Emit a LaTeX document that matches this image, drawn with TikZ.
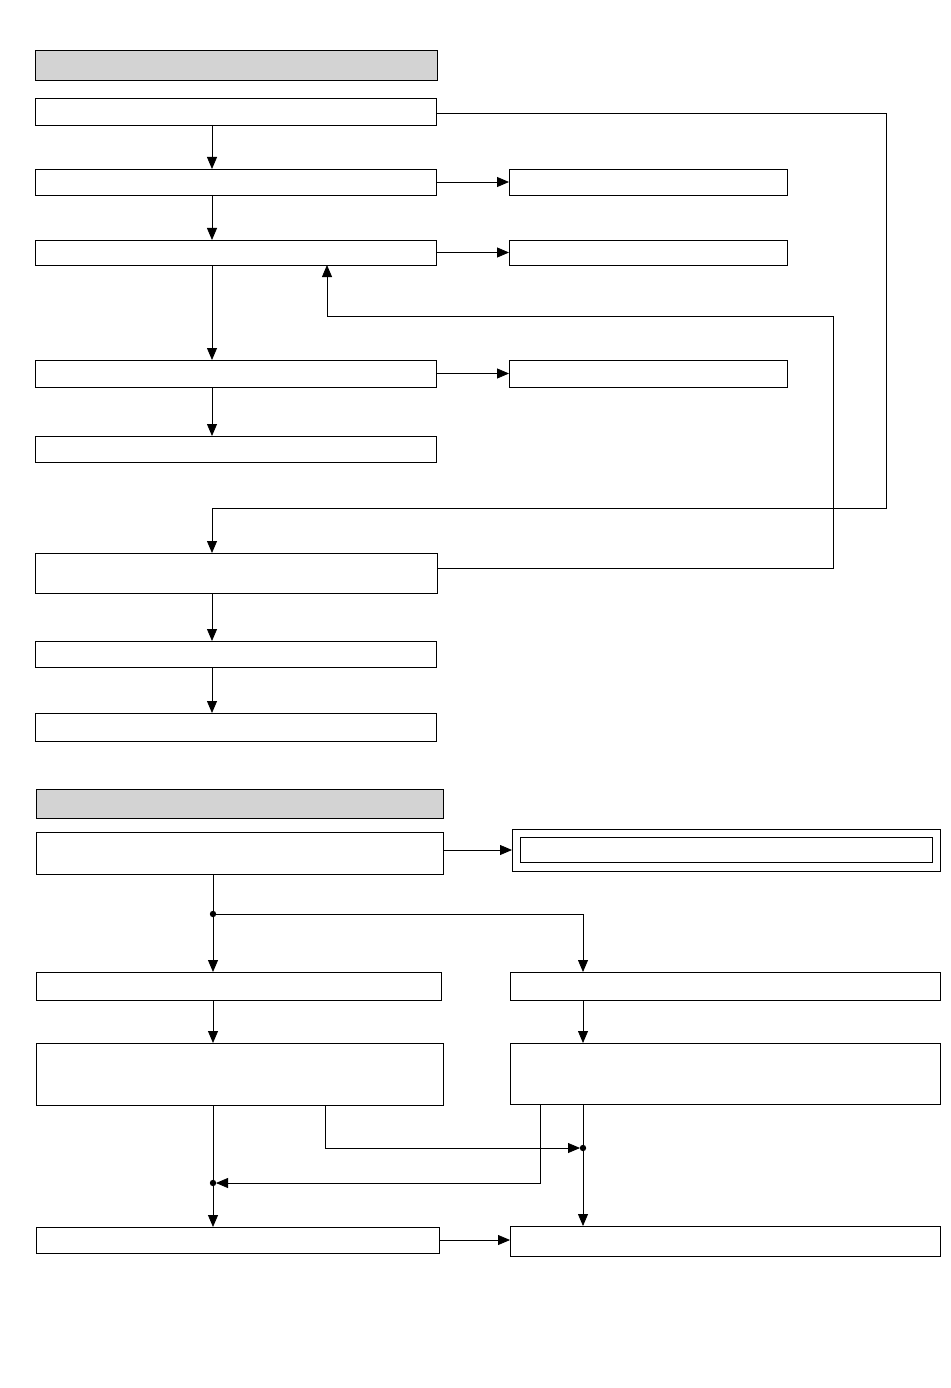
\documentclass[tikz,border=0pt]{standalone}
\usepackage{tikz}
\usetikzlibrary{arrows.meta}
\definecolor{headgray}{RGB}{211,211,211}

\begin{document}
\begin{tikzpicture}[x=1pt,y=-1pt,line width=0.8pt,
	box/.style={draw,rectangle,inner sep=0pt,outer sep=0pt},
	headbox/.style={box,fill=headgray},
	arr/.style={-{Triangle[length=12pt,width=10pt]}}]

	\useasboundingbox (0,0) rectangle (950,1388);

	% upper chart
	\node[headbox,minimum width=402pt,minimum height=30pt] (head1) at (236,65) {};
	\node[box,minimum width=401pt,minimum height=27pt] (b1) at (235.5,111.5) {};
	\node[box,minimum width=401pt,minimum height=26pt] (b2) at (235.5,182) {};
	\node[box,minimum width=401pt,minimum height=25pt] (b3) at (235.5,252.5) {};
	\node[box,minimum width=401pt,minimum height=27pt] (b4) at (235.5,373.5) {};
	\node[box,minimum width=401pt,minimum height=26pt] (b5) at (235.5,449) {};
	\node[box,minimum width=402pt,minimum height=40pt] (b6) at (236,573) {};
	\node[box,minimum width=401pt,minimum height=26pt] (b7) at (235.5,654) {};
	\node[box,minimum width=401pt,minimum height=28pt] (b8) at (235.5,727) {};

	\node[box,minimum width=278pt,minimum height=26pt] (r2) at (648,182) {};
	\node[box,minimum width=278pt,minimum height=25pt] (r3) at (648,252.5) {};
	\node[box,minimum width=278pt,minimum height=27pt] (r4) at (648,373.5) {};

	\coordinate (lx) at (212,0);
	\coordinate (k1) at (886,508);
	\coordinate (k2) at (212,508);
	\coordinate (k3) at (833,316);
	\coordinate (k4) at (327,316);

	\draw[arr] (lx |- b1.south) -- (lx |- b2.north);
	\draw[arr] (lx |- b2.south) -- (lx |- b3.north);
	\draw[arr] (lx |- b3.south) -- (lx |- b4.north);
	\draw[arr] (lx |- b4.south) -- (lx |- b5.north);
	\draw[arr] (lx |- b6.south) -- (lx |- b7.north);
	\draw[arr] (lx |- b7.south) -- (lx |- b8.north);

	\draw[arr] (b2.east) -- (r2.west);
	\draw[arr] (b3.east) -- (r3.west);
	\draw[arr] (b4.east) -- (r4.west);

	\draw[arr] ([yshift=-1.5pt]b1.east) -| (k1) -- (k2) -- (k2 |- b6.north);
	\draw[arr] ([yshift=5pt]b6.east) -| (k3) -- (k4) -- (k4 |- b3.south);

	% lower chart
	\node[headbox,minimum width=407pt,minimum height=29pt] (head2) at (239.5,803.5) {};
	\node[box,minimum width=407pt,minimum height=42pt] (c1) at (239.5,853) {};
	\node[box,minimum width=428pt,minimum height=42pt] (d) at (726,850) {};
	\node[box,minimum width=412pt,minimum height=25pt] (din) at (726,849.5) {};
	\node[box,minimum width=405pt,minimum height=28pt] (e1) at (238.5,986) {};
	\node[box,minimum width=430pt,minimum height=28pt] (e2) at (725,986) {};
	\node[box,minimum width=407pt,minimum height=62pt] (f1) at (239.5,1074) {};
	\node[box,minimum width=430pt,minimum height=61pt] (f2) at (725,1073.5) {};
	\node[box,minimum width=403pt,minimum height=26pt] (g1) at (237.5,1240) {};
	\node[box,minimum width=430pt,minimum height=30pt] (g2) at (725,1241) {};

	\coordinate (lx2) at (213,0);
	\coordinate (rx2) at (583,0);
	\coordinate (sx) at (325,0);
	\coordinate (tx) at (540,0);
	\coordinate (j1) at (213,914);
	\coordinate (j2) at (583,1148);
	\coordinate (j3) at (213,1183);

	\draw[arr] (d.west -| c1.east) -- (d.west);
	\draw (lx2 |- c1.south) -- (j1);
	\draw[arr] (j1) -- (lx2 |- e1.north);
	\draw[arr] (j1) -| (rx2 |- e2.north);
	\draw[arr] (lx2 |- e1.south) -- (lx2 |- f1.north);
	\draw[arr] (rx2 |- e2.south) -- (rx2 |- f2.north);

	\draw (lx2 |- f1.south) -- (j3);
	\draw[arr] (j3) -- (lx2 |- g1.north);
	\draw[arr,shorten >=3pt] (sx |- f1.south) |- (j2);
	\draw[arr] (rx2 |- f2.south) -- (rx2 |- g2.north);
	\draw[arr,shorten >=3pt] (tx |- f2.south) |- (j3);
	\draw[arr] (g1.east) -- (g1.east -| g2.west);

	\fill (j1) circle (3.2pt);
	\fill (j2) circle (3.2pt);
	\fill (j3) circle (3.2pt);

\end{tikzpicture}
\end{document}
